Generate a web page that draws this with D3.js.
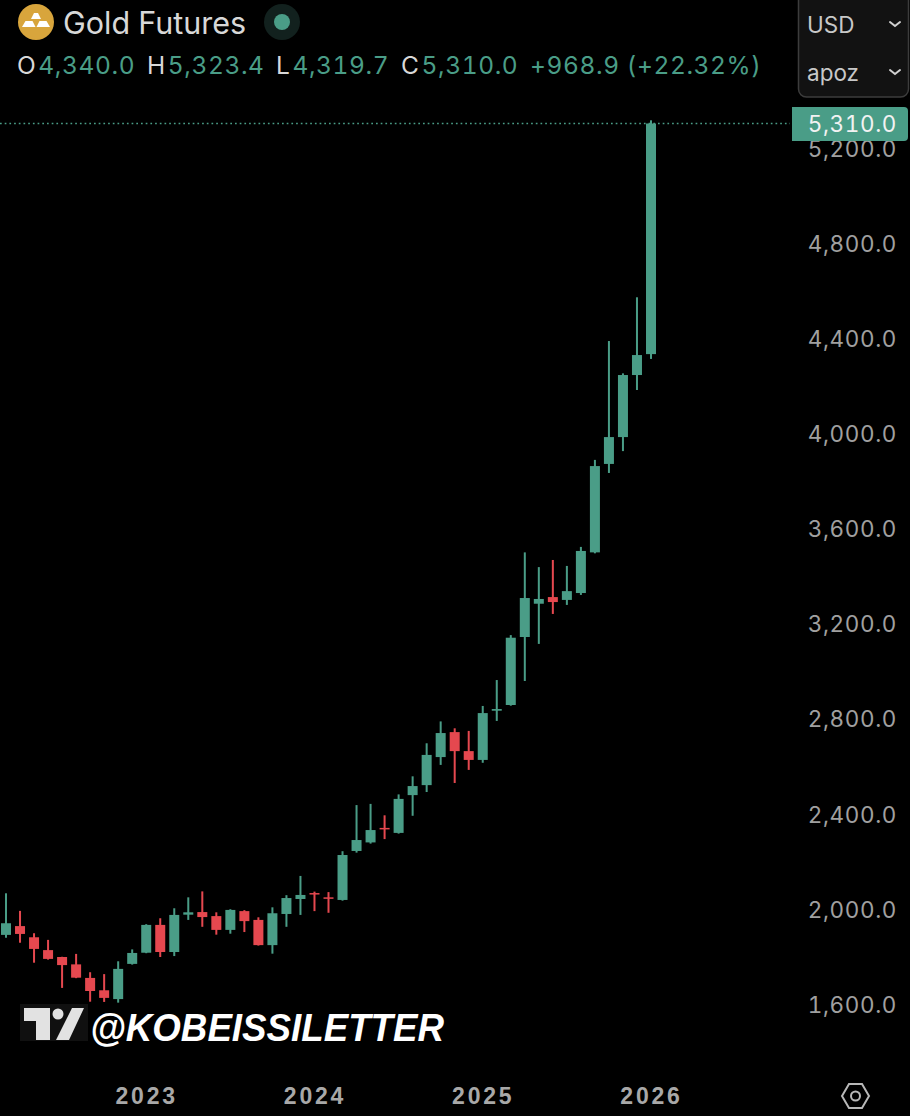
<!DOCTYPE html>
<html>
<head>
<meta charset="utf-8">
<title>Gold Futures</title>
<script src="https://cdn.jsdelivr.net/npm/d3@7"></script>
<style>
  html, body { margin: 0; padding: 0; background: #000; }
  svg { display: block; }
  text { font-family: Inter, "Noto Sans", sans-serif; font-variant-numeric: tabular-nums; }
</style>
</head>
<body>
<div id="chart"></div>
<script>
// monthly candles, mar 2022 to jan 2026
const startYear = 2022, startMonth = 2;
const opens = [1897, 1934, 1887, 1833, 1804, 1773, 1716, 1664, 1627, 1775, 1822, 1939, 1825, 1982, 1993, 1976, 1918, 1997, 1960, 1854, 1985, 2048, 2073, 2055, 2044, 2250, 2286, 2347, 2326, 2485, 2527, 2645, 2750, 2670, 2633, 2840, 2864, 3150, 3290, 3318, 3306, 3335, 3506, 3878, 3991, 4252, 4340];
const highs = [2072, 1998, 1904, 1876, 1805, 1817, 1740, 1732, 1786, 1836, 1942, 1967, 2009, 2055, 2080, 1992, 2005, 2001, 1971, 2013, 2064, 2145, 2079, 2077, 2249, 2443, 2448, 2400, 2488, 2564, 2703, 2795, 2766, 2755, 2860, 2969, 3158, 3506, 3444, 3474, 3449, 3529, 3895, 4395, 4259, 4579, 5323.4];
const lows = [1885, 1864, 1780, 1793, 1674, 1715, 1616, 1615, 1612, 1772, 1820, 1804, 1808, 1960, 1931, 1898, 1902, 1909, 1852, 1818, 1931, 1981, 1997, 1990, 2041, 2243, 2281, 2300, 2323, 2398, 2498, 2612, 2536, 2591, 2621, 2797, 2861, 2965, 3121, 3247, 3285, 3327, 3502, 3840, 3932, 4189, 4319.7];
const closes = [1946, 1901, 1838, 1796, 1770, 1717, 1661, 1632, 1754, 1821, 1939, 1825, 1981, 1992, 1972, 1918, 2002, 1955, 1854, 1988, 2052, 2065, 2068, 2051, 2233, 2296, 2338, 2341, 2469, 2523, 2654, 2746, 2670, 2633, 2830, 2847, 3147, 3314, 3310, 3297, 3343, 3512, 3869, 3991, 4252, 4336, 5310];

const priceTicks = [1600, 2000, 2400, 2800, 3200, 3600, 4000, 4400, 4800, 5200];
const yearTicks = [2023, 2024, 2025, 2026];
const lastPrice = 5310;

const legendPairs = [["O", "4,340.0", 17], ["H", "5,323.4", 147], ["L", "4,319.7", 276], ["C", "5,310.0", 401]];
const legendChange = "+968.9 (+22.32%)";

const GREEN = "#4a9d87", RED = "#e5484f", LABEL = "#a0a0a0";
const width = 910, height = 1116;

const svg = d3.select("#chart").append("svg")
    .attr("width", width)
    .attr("height", height)
    .style("background", "#000");

// month keys for the band of candles
const months = opens.map((d, i) => {
    const m = startMonth + i;
    return `${startYear + Math.floor(m / 12)}-${m % 12}`;
});

const x = d3.scalePoint().domain(months).range([6, 651]);
const y = d3.scaleLinear().domain([1600, 5310]).range([1005.5, 123.5]);

// price axis
const yAxis = svg.append("g")
    .attr("transform", "translate(897,0)")
    .call(d3.axisLeft(y).tickValues(priceTicks).tickSize(0).tickFormat(d3.format(",.1f")));
yAxis.select(".domain").remove();
yAxis.selectAll("text")
    .attr("x", 0)
    .attr("dy", "0.3em")
    .attr("fill", LABEL)
    .style("font-family", "Inter, sans-serif")
    .style("font-size", "22.5px")
    .style("letter-spacing", "0.6px");

// time axis
const xAxis = svg.append("g")
    .attr("transform", "translate(0,1096)")
    .call(d3.axisBottom(x).tickValues(yearTicks.map(d => `${d}-0`)).tickSize(0).tickFormat(d => d.split("-")[0]));
xAxis.select(".domain").remove();
xAxis.selectAll("text")
    .attr("y", 0)
    .attr("dy", "0.35em")
    .attr("fill", "#a8a8a8")
    .style("font-family", "'Liberation Sans', Arial, sans-serif")
    .style("font-weight", "700")
    .style("font-size", "23px")
    .style("letter-spacing", "2.8px");

// last price line
svg.append("line")
    .attr("x1", 0).attr("x2", 790)
    .attr("y1", y(lastPrice)).attr("y2", y(lastPrice))
    .attr("stroke", GREEN)
    .attr("stroke-width", 1.7)
    .attr("stroke-dasharray", "1.7 3");

// candles
const candles = svg.append("g").selectAll("g")
    .data(months)
    .join("g")
    .attr("fill", (d, i) => closes[i] >= opens[i] ? GREEN : RED);

candles.append("rect")
    .attr("x", d => x(d) - 1)
    .attr("width", 2)
    .attr("y", (d, i) => y(highs[i]))
    .attr("height", (d, i) => y(lows[i]) - y(highs[i]));

candles.append("rect")
    .attr("x", d => x(d) - 5)
    .attr("width", 10)
    .attr("y", (d, i) => y(Math.max(opens[i], closes[i])))
    .attr("height", (d, i) => Math.max(1.5, Math.abs(y(opens[i]) - y(closes[i]))));

// last price tag
svg.append("path")
    .attr("d", "M792,107H904a4,4 0 0 1 4,4V137a4,4 0 0 1 -4,4H792Z")
    .attr("fill", GREEN);
svg.append("text")
    .attr("x", 897).attr("y", y(lastPrice))
    .attr("dy", "0.36em")
    .attr("text-anchor", "end")
    .attr("fill", "#f2f2f2")
    .style("font-size", "22.5px")
    .style("letter-spacing", "0.6px")
    .text(d3.format(",.1f")(lastPrice));

// header: symbol icon and name
const icon = svg.append("g").attr("transform", "translate(36,22)");
icon.append("circle").attr("r", 18).attr("fill", "#d8a53c");
icon.selectAll("path")
    .data(["M-5,-3L-2,-9H2L5,-3Z", "M-14,5L-10.5,-1H-3.5L-0.5,5Z", "M0.5,5L3.5,-1H10.5L14,5Z"])
    .join("path")
    .attr("d", d => d)
    .attr("fill", "#fff");

svg.append("text")
    .attr("x", 63).attr("y", 34)
    .attr("fill", "#d8d8d8")
    .style("font-size", "30.5px")
    .text("Gold Futures");

svg.append("circle").attr("cx", 282).attr("cy", 22).attr("r", 18).attr("fill", "#12211e");
svg.append("circle").attr("cx", 282).attr("cy", 22).attr("r", 8).attr("fill", GREEN);

// header: ohlc row
legendPairs.forEach(([k, v, left]) => {
    const row = svg.append("text")
        .attr("y", 74)
        .attr("x", left)
        .style("font-size", "24.5px")
        .style("letter-spacing", "0.6px");
    row.append("tspan").attr("fill", "#d8d8d8").text(k);
    row.append("tspan").attr("fill", GREEN).attr("dx", 2).text(v);
});
svg.append("text")
    .attr("x", 530).attr("y", 74)
    .attr("fill", GREEN)
    .style("font-size", "24.5px")
    .style("letter-spacing", "0.6px")
    .text(legendChange);

// currency and unit box
svg.append("rect")
    .attr("x", 798.5).attr("y", -8)
    .attr("width", 110).attr("height", 105)
    .attr("rx", 8)
    .attr("fill", "#121212")
    .attr("stroke", "#3c3c3c")
    .attr("stroke-width", 1.5);

[["USD", 33, 24], ["apoz", 81, 72]].forEach(([label, base, mid]) => {
    svg.append("text")
        .attr("x", 807).attr("y", base)
        .attr("fill", "#c8c8c8")
        .style("font-size", "22.5px")
        .text(label);
    svg.append("path")
        .attr("d", `M890,${mid - 2}L895,${mid + 2}L900,${mid - 2}`)
        .attr("fill", "none")
        .attr("stroke", "#d0d0d0")
        .attr("stroke-width", 2)
        .attr("stroke-linecap", "round");
});

// tradingview mark and handle
svg.append("rect")
    .attr("x", 20).attr("y", 1004)
    .attr("width", 68).attr("height", 37)
    .attr("fill", "#101010");
svg.append("path")
    .attr("d", "M24,1008H50V1040H36V1021H24Z M72,1008H84L69,1040H56Z")
    .attr("fill", "#e2e2e2");
svg.append("circle").attr("cx", 58).attr("cy", 1014).attr("r", 5.5).attr("fill", "#e2e2e2");

svg.append("text")
    .attr("x", 90).attr("y", 1041)
    .attr("fill", "#fff")
    .attr("textLength", 354)
    .attr("lengthAdjust", "spacingAndGlyphs")
    .style("font-family", "'Liberation Sans', Arial, sans-serif")
    .style("font-weight", "700")
    .style("font-style", "italic")
    .style("font-size", "38px")
    .text("@KOBEISSILETTER");

// settings icon
svg.append("path")
    .attr("d", "M842,1096L849,1084H862L869,1096L862,1108H849Z")
    .attr("fill", "none")
    .attr("stroke", "#b8b8b8")
    .attr("stroke-width", 2);
svg.append("circle")
    .attr("cx", 855.5).attr("cy", 1096).attr("r", 4.5)
    .attr("fill", "none")
    .attr("stroke", "#b8b8b8")
    .attr("stroke-width", 2);
</script>
</body>
</html>
